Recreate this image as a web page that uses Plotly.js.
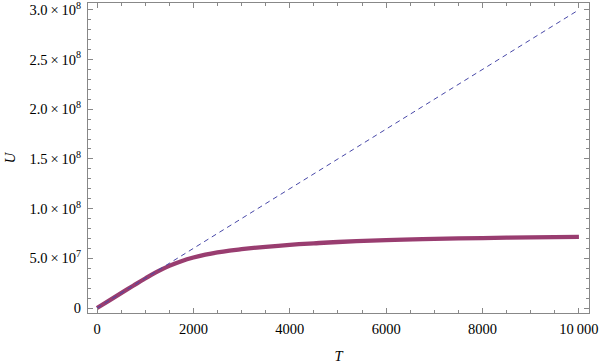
<!DOCTYPE html>
<html>
<head>
<meta charset="utf-8">
<script src="https://cdn.plot.ly/plotly-3.0.1.min.js"></script>
<style>html,body{margin:0;padding:0;background:#fff;}#chart{width:599px;height:364px;}</style>
</head>
<body>
<div id="chart"></div>
<script>
// Temperature samples (T) and internal energy U (solid curve)
const T = [0, 250, 500, 750, 1000, 1250, 1500, 1750, 2000, 2250, 2500, 2750, 3000, 3500, 4000, 4500, 5000, 6000, 7000, 8000, 9000, 10000];
const U = [0, 0.75e7, 1.5e7, 2.24e7, 2.97e7, 3.66e7, 4.24e7, 4.71e7, 5.08e7, 5.37e7, 5.6e7, 5.78e7, 5.92e7, 6.16e7, 6.36e7, 6.51e7, 6.64e7, 6.83e7, 6.95e7, 7.04e7, 7.1e7, 7.15e7];
// Linear (classical) asymptote, dashed
const Tlin = [0, 10000];
const Ulin = [0, 3.0e8];
// Tick labels
const xTickVals = [0, 2000, 4000, 6000, 8000, 10000];
const xTickText = ['0', '2000', '4000', '6000', '8000', '10\u2009000'];
const yTickVals = [0, 5e7, 1e8, 1.5e8, 2e8, 2.5e8, 3e8];
const yTickText = ['0', '5.0\u2009\u00d7\u200910<sup>7</sup>', '1.0\u2009\u00d7\u200910<sup>8</sup>', '1.5\u2009\u00d7\u200910<sup>8</sup>', '2.0\u2009\u00d7\u200910<sup>8</sup>', '2.5\u2009\u00d7\u200910<sup>8</sup>', '3.0\u2009\u00d7\u200910<sup>8</sup>'];

const font = {family: 'Liberation Serif, Times New Roman, DejaVu Serif, serif', size: 14.5, color: '#000'};
const frame = '#888888';

const traces = [
  {x: T, y: U, mode: 'lines', line: {color: '#993d70', width: 4.3, shape: 'spline', smoothing: 1.3}, hoverinfo: 'skip'},
  {x: Tlin, y: Ulin, mode: 'lines', line: {color: '#4848a8', width: 1, dash: '5px,4px'}, hoverinfo: 'skip'}
];

const layout = {
  width: 599, height: 364,
  margin: {l: 88, r: 10, t: 3, b: 51, pad: 0},
  paper_bgcolor: '#fff', plot_bgcolor: '#fff',
  showlegend: false,
  font: font,
  xaxis: {
    range: [-187, 10209], showgrid: false, zeroline: false,
    showline: true, linecolor: frame, linewidth: 1, mirror: 'ticks',
    ticks: 'inside', ticklen: 5, tickcolor: frame, tickwidth: 1,
    tickmode: 'array', tickvals: xTickVals, ticktext: xTickText,
    tickfont: font, ticklabeloverflow: 'allow', ticklabelstandoff: 3,
    minor: {ticks: 'inside', ticklen: 3, tickcolor: frame, dtick: 500, tick0: 0, showgrid: false},
    title: {text: '<i>T</i>', font: font, standoff: 14}
  },
  yaxis: {
    range: [-5e6, 3.068e8], showgrid: false, zeroline: false,
    showline: true, linecolor: frame, linewidth: 1, mirror: 'ticks',
    ticks: 'inside', ticklen: 5, tickcolor: frame, tickwidth: 1,
    tickmode: 'array', tickvals: yTickVals, ticktext: yTickText,
    tickfont: font, ticklabeloverflow: 'allow', ticklabelstandoff: 3,
    minor: {ticks: 'inside', ticklen: 3, tickcolor: frame, dtick: 1e7, tick0: 0, showgrid: false},
    title: {text: '<i>U</i>', font: font, standoff: 10}
  }
};

Plotly.newPlot('chart', traces, layout, {staticPlot: true, displayModeBar: false});
</script>
</body>
</html>
